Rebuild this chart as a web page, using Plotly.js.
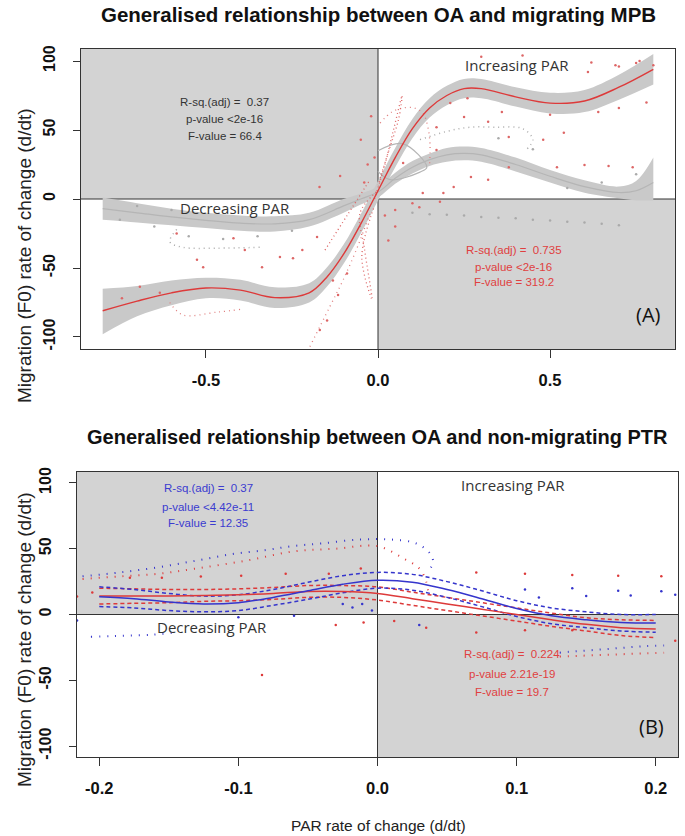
<!DOCTYPE html>
<html><head><meta charset="utf-8">
<script src="https://cdn.plot.ly/plotly-3.0.1.min.js"></script>
<style>body{margin:0;padding:0;background:#fff}#chart{width:685px;height:836px}</style>
</head><body><div id="chart"></div>
<script>
// ---------- Panel A data ----------
const aFitX   = [-0.8,-0.7,-0.6,-0.5,-0.4,-0.3,-0.2,-0.15,-0.1,-0.05,0,0.05,0.1,0.15,0.2,0.25,0.3,0.4,0.5,0.6,0.7,0.8];
const aRedFit = [-81,-74,-68,-64.5,-66,-71.5,-68,-57,-40,-18,6,30,51,66,75,80,80,74,69.5,71,81,94];
const aRedUp  = [-65,-63,-59,-57,-58.5,-64,-61,-50,-33,-11,13,37,58,73,82,87,87,81,77,79,90,105];
const aRedLo  = [-98,-85,-77,-72,-73.5,-79,-75,-64,-47,-25,-1,23,44,59,68,73,73,67,62,63,72,83];

const aGrayX   = [-0.8,-0.7,-0.6,-0.5,-0.4,-0.3,-0.2,-0.1,-0.05,0,0.05,0.1,0.15,0.2,0.25,0.3,0.4,0.5,0.6,0.7,0.75,0.8];
const aGrayFit = [-7,-10,-13,-15.5,-17.5,-18,-15,-5,0,5,15,23,28.5,32,33,32,25,16.5,9,4.7,6,12];
const aGrayUp  = [1,-3,-7,-10,-12,-12.5,-10,0,4,9,19,27.5,33,37,38,37,30,21,13.5,9,13,30];
const aGrayLo  = [-15,-17,-19,-21,-23,-23.5,-20,-10,-4,1,11,18.5,24,27,28,27,20,12,4.5,0.5,-1,-1];

const aRedPtsX = [0.3,0.42,0.62,0.7,0.76,0.8,0.61,0.69,0.75,0.21,0.26,0.36,0.5,0.64,0.70,0.78,0.17,0.25,0.32,0.38,0.48,0.54,0.073,0.17,0.27,0.32,0.38,0.52,0.6,0.67,0.74,0.22,0.13,0.19,
  -0.05,-0.03,-0.02,-0.04,-0.01,-0.17,-0.11,-0.585,-0.526,-0.508,-0.42,-0.387,-0.337,-0.285,-0.247,-0.22,-0.177,-0.692,-0.744,-0.634,-0.131,-0.148,-0.169,-0.09,-0.116,
  0.05,0.1,0.18,0.05,0.02,0.12,0.03];
const aRedPtsY = [103,104,99,96,100,97,92,97,98.5,69.5,73,63,61,63,66,70,52,59.5,56,45,43,48,26,35.5,16,14,23,23,24.6,24,23,8.7,4.3,4.3,
  43,25,60,12,30,8.7,16.7,-25,-44,-49.5,-28.5,-37,-49.5,-42,-43,-37,-27.5,-63.5,-72,-68,-59,-88,-95,-54,-69.5,
  -8,-3,-2,-20,-12,-6,-30];
const aGrayPtsX = [0.1,0.15,0.2,0.25,0.3,0.35,0.4,0.45,0.5,0.55,0.6,0.65,0.7,-0.75,-0.65,-0.55,-0.45,-0.35,-0.25,-0.7,-0.6,0.35,0.45,0.55,0.65,0.75];
const aGrayPtsY = [-10,-11,-11.5,-12,-13,-13.5,-14,-15,-15.5,-16.5,-17,-18,-19,-15,-20,-27,-29,-27,-23,-5,-8,44,36,8,12,18];

// dotted loops / spikes (panel A)
const aRedLoop1X = [0.006,0.04,0.073,0.105,0.131,0.145,0.151,0.15];
const aRedLoop1Y = [55,63,66,66,62,52,40,25];
const aRedSpikeX = [-0.01,0.02,0.045,0.07,0.06,0.03,0.0];
const aRedSpikeY = [0,25,50,75,58,34,10];
const aRedSpike2X = [-0.154,-0.09,-0.023];
const aRedSpike2Y = [-37,-12,14];
const aRedLoop2X = [-0.005,-0.052,-0.04,-0.017,-0.047,-0.01];
const aRedLoop2Y = [5,-10,-35,-73,-42,-5];
const aRedSpike3X = [-0.198,-0.14,-0.102,-0.06,-0.02];
const aRedSpike3Y = [-107,-78,-59,-35,-8];
const aRedLoop3X = [-0.605,-0.567,-0.468,-0.4];
const aRedLoop3Y = [-75,-84,-82,-80];
const aGrayLoop1X = [-0.585,-0.605,-0.567,-0.468,-0.34];
const aGrayLoop1Y = [-22,-31,-35,-35.6,-35];
const aGrayLoop2X = [0.122,0.2,0.267,0.34,0.42,0.45,0.43];
const aGrayLoop2Y = [43,49,52,52,51,43,35.5];
const aGrayRingX = [0,0.073,0.142,0.122,0.035,0];
const aGrayRingY = [35,40,23,19.5,14,20];

// ---------- Panel B data ----------
const bX       = [-0.2,-0.175,-0.15,-0.125,-0.1,-0.075,-0.05,-0.025,0,0.025,0.05,0.075,0.1,0.125,0.15,0.175,0.2];
const bRedFit  = [14,14,14,14.5,15,16,17.5,17.5,16,12,8,4,0,-4,-7.5,-10,-11];
const bRedUp   = [20,19.5,19,19,19.5,20.5,22,22,21,17,13,9,5,1,-2.5,-4,-4.5];
const bRedLo   = [8,8.5,9,10,10.5,11.5,13,13,11,7,3,-1,-5,-9,-12.5,-16,-17.5];
const bBlueFit = [13.5,12,9.5,8,9,13,18,23,26,24.5,19,12,4.5,-1,-4,-6,-6.5];
const bBlueUp  = [21,19,16,14,15,19,24.5,29.5,32,30.5,25,18,10.5,5,2,0,0];
const bBlueLo  = [6,5,3,2,3,7,11.5,16.5,20,18.5,13,6,-1.5,-7,-10,-12.5,-13.5];

const bBlueDotUpX = [-0.212,-0.185,-0.157,-0.13,-0.104,-0.08,-0.061,-0.04,-0.013,0.009,0.025,0.033,0.038,0.04,0.038,0.036];
const bBlueDotUpY = [29,32,36,41,46,49,52,54,57,57,55,51,46,40,35,32];
const bRedDotUpX  = [-0.212,-0.185,-0.157,-0.13,-0.094,-0.06,-0.03,0,0.018,0.03,0.035,0.037];
const bRedDotUpY  = [27,29,31,35,41,48,50,52,43,35,25,13];
const bBlueDotLoX = [-0.206,-0.191,-0.178,-0.163,-0.148];
const bBlueDotLoY = [-17,-16.5,-16,-15.5,-14];
const bBlueDotLo2X = [0.131,0.142,0.155,0.168,0.18,0.193,0.206];
const bBlueDotLo2Y = [-29,-28,-27,-26,-25,-24,-23.5];
const bRedDotLo2X  = [0.131,0.142,0.155,0.168,0.18,0.193,0.206];
const bRedDotLo2Y  = [-32,-31.5,-31,-30.5,-30,-29.5,-29];

const bRedPtsX = [0.071,0.106,0.14,0.173,0.204,0.071,0.106,-0.083,-0.216,-0.205,-0.178,-0.155,-0.127,-0.098,-0.066,-0.035,-0.012,0.035,0.14,-0.03,-0.01,0.012,0.214];
const bRedPtsY = [32,31,30,29.5,29,-13.6,-12,-46,13.6,16.7,28,28,28.8,29.5,31,31,35,-10,-12,-8,-6,-5,-20];
const bBluePtsX = [0.106,0.116,0.14,0.15,0.173,0.182,0.204,0.214,-0.025,-0.018,-0.011,-0.004,-0.216,-0.1,-0.06,0.03];
const bBluePtsY = [19,13,20,14,18,14.5,17.6,15,8,5.3,8,3,-4.5,-2,-1,-8];

const aTicksX = [-0.5,0,0.5], aTickTextX = ['-0.5','0.0','0.5'];
const bTicksX = [-0.2,-0.1,0,0.1,0.2], bTickTextX = ['-0.2','-0.1','0.0','0.1','0.2'];
const yTicks = [-100,-50,0,50,100], yTickText = ['-100','-50','0','50','100'];

// ---------- styles ----------
const RED='#dd3a3a', BLUE='#3535cc', GBAND='#c9c9c9', GLINE='#b5b5b5', SHADE='#d3d3d3';
const traces=[];
function band(x,lo,up,col,xa,ya){
  traces.push({x:x,y:lo,mode:'lines',line:{width:0,shape:'spline'},hoverinfo:'skip',xaxis:xa,yaxis:ya});
  traces.push({x:x,y:up,mode:'lines',line:{width:0,shape:'spline'},fill:'tonexty',fillcolor:col,hoverinfo:'skip',xaxis:xa,yaxis:ya});
}
function line(x,y,col,w,dash,xa,ya){
  traces.push({x:x,y:y,mode:'lines',line:{color:col,width:w,dash:dash||'solid',shape:'spline'},hoverinfo:'skip',xaxis:xa,yaxis:ya});
}
function pts(x,y,col,s,xa,ya){
  traces.push({x:x,y:y,mode:'markers',marker:{color:col,size:s},hoverinfo:'skip',xaxis:xa,yaxis:ya});
}
// Panel A
band(aGrayX,aGrayLo,aGrayUp,GBAND,'x','y');
band(aFitX,aRedLo,aRedUp,GBAND,'x','y');
line(aGrayX,aGrayFit,GLINE,1.2,'solid','x','y');
line(aGrayRingX,aGrayRingY,GLINE,1.2,'solid','x','y');
line(aGrayLoop1X,aGrayLoop1Y,'#aaaaaa',1.5,'1px,4px','x','y');
line(aGrayLoop2X,aGrayLoop2Y,'#aaaaaa',1.5,'1px,4px','x','y');
line(aRedLoop1X,aRedLoop1Y,'#e08080',1.3,'1px,4px','x','y');
line(aRedSpikeX,aRedSpikeY,'#dd6666',1.3,'1px,3px','x','y');
line(aRedSpike2X,aRedSpike2Y,'#dd6666',1.3,'1px,3px','x','y');
line(aRedLoop2X,aRedLoop2Y,'#dd6666',1.3,'1px,3px','x','y');
line(aRedSpike3X,aRedSpike3Y,'#e08080',1.3,'1px,4px','x','y');
line(aRedLoop3X,aRedLoop3Y,'#e08080',1.3,'1px,4px','x','y');
pts(aGrayPtsX,aGrayPtsY,'#aaaaaa',2.5,'x','y');
pts(aRedPtsX,aRedPtsY,'#dd6666',2.5,'x','y');
line(aFitX,aRedFit,RED,1.4,'solid','x','y');
// Panel B
line(bBlueDotUpX,bBlueDotUpY,BLUE,2,'1px,7px','x2','y2');
line(bRedDotUpX,bRedDotUpY,RED,2,'1px,7px','x2','y2');
line(bBlueDotLoX,bBlueDotLoY,BLUE,2,'1px,7px','x2','y2');
line(bBlueDotLo2X,bBlueDotLo2Y,BLUE,2,'1px,7px','x2','y2');
line(bRedDotLo2X,bRedDotLo2Y,RED,2,'1px,7px','x2','y2');
pts(bRedPtsX,bRedPtsY,RED,2.5,'x2','y2');
pts(bBluePtsX,bBluePtsY,BLUE,2.5,'x2','y2');
line(bX,bRedUp,RED,1.5,'4px,3px','x2','y2');
line(bX,bRedLo,RED,1.5,'4px,3px','x2','y2');
line(bX,bBlueUp,BLUE,1.5,'4px,3px','x2','y2');
line(bX,bBlueLo,BLUE,1.5,'4px,3px','x2','y2');
line(bX,bRedFit,RED,1.5,'solid','x2','y2');
line(bX,bBlueFit,BLUE,1.5,'solid','x2','y2');

const W=685,H=836;
function axX(dom,rng,tv,tt,anchor){return {domain:dom,range:rng,tickvals:tv,ticktext:tt,ticks:'outside',ticklen:8,tickcolor:'#333',
  showgrid:false,zeroline:false,showline:true,mirror:true,linecolor:'#333',linewidth:1,anchor:anchor,ticklabelstandoff:8,
  tickfont:{family:'Liberation Sans',size:16.5,color:'#111',weight:'bold'}};}
function axY(dom,rng,anchor){return {domain:dom,range:rng,tickvals:yTicks,ticktext:yTickText,ticks:'outside',ticklen:7,tickcolor:'#333',tickangle:-90,
  showgrid:false,zeroline:false,showline:true,mirror:true,linecolor:'#333',linewidth:1,anchor:anchor,ticklabelstandoff:12,
  tickfont:{family:'Liberation Sans',size:16,color:'#111',weight:'bold'}};}

const aXR=[-0.863,0.863], aYR=[-108.7,108.7], bXR=[-0.216,0.216], bYR=[-108.3,108.3];
const shapes=[
 {type:'rect',xref:'x',yref:'y',x0:aXR[0],x1:0,y0:0,y1:aYR[1],fillcolor:SHADE,line:{width:0},layer:'below'},
 {type:'rect',xref:'x',yref:'y',x0:0,x1:aXR[1],y0:aYR[0],y1:0,fillcolor:SHADE,line:{width:0},layer:'below'},
 {type:'line',xref:'x',yref:'y',x0:0,x1:0,y0:aYR[0],y1:aYR[1],line:{color:'#333',width:1},layer:'below'},
 {type:'line',xref:'x',yref:'y',x0:aXR[0],x1:aXR[1],y0:0,y1:0,line:{color:'#333',width:1},layer:'below'},
 {type:'rect',xref:'x2',yref:'y2',x0:bXR[0],x1:0,y0:0,y1:bYR[1],fillcolor:SHADE,line:{width:0},layer:'below'},
 {type:'rect',xref:'x2',yref:'y2',x0:0,x1:bXR[1],y0:bYR[0],y1:0,fillcolor:SHADE,line:{width:0},layer:'below'},
 {type:'line',xref:'x2',yref:'y2',x0:0,x1:0,y0:bYR[0],y1:bYR[1],line:{color:'#333',width:1},layer:'below'},
 {type:'line',xref:'x2',yref:'y2',x0:bXR[0],x1:bXR[1],y0:0,y1:0,line:{color:'#333',width:1},layer:'below'}
];
const F_STAT={family:'Liberation Sans',size:11.5};
function ann(text,x,y,xr,yr,font,extra){return Object.assign({text:text,x:x,y:y,xref:xr,yref:yr,showarrow:false,xanchor:'center',yanchor:'middle',font:font},extra||{});}
const PANEL={family:'Open Sans',size:15,color:'#333'};
const TITLEF={family:'Liberation Sans',size:20.5,color:'#111',weight:'bold'};
const TITLEF2={family:'Liberation Sans',size:20,color:'#111',weight:'bold'};
const annotations=[
 ann('Generalised relationship between OA and migrating MPB',378/W,1-14/H,'paper','paper',TITLEF),
 ann('Generalised relationship between OA and non-migrating PTR',377/W,1-437/H,'paper','paper',TITLEF2),
 ann('Migration (F0) rate of change (d/dt)',24/W,1-256/H,'paper','paper',{family:'Liberation Sans',size:19,color:'#222'},{textangle:-90}),
 ann('Migration (F0) rate of change (d/dt)',24/W,1-640/H,'paper','paper',{family:'Liberation Sans',size:19,color:'#222'},{textangle:-90}),
 ann('PAR rate of change (d/dt)',379/W,1-825/H,'paper','paper',{family:'Liberation Sans',size:15.5,color:'#222'}),
 ann('Increasing PAR',0.404,97.1,'x','y',PANEL),
 ann('Decreasing PAR',-0.416,-6.5,'x','y',PANEL),
 ann('R-sq.(adj) =  0.37',-0.445,70.3,'x','y',Object.assign({color:'#333'},F_STAT)),
 ann('p-value &lt;2e-16',-0.445,58,'x','y',Object.assign({color:'#333'},F_STAT)),
 ann('F-value = 66.4',-0.445,45.7,'x','y',Object.assign({color:'#333'},F_STAT)),
 ann('R-sq.(adj) =  0.735',0.395,-37,'x','y',Object.assign({color:'#e04040'},F_STAT)),
 ann('p-value &lt;2e-16',0.395,-49.3,'x','y',Object.assign({color:'#e04040'},F_STAT)),
 ann('F-value = 319.2',0.395,-60.1,'x','y',Object.assign({color:'#e04040'},F_STAT)),
 ann('(A)',0.785,-84,'x','y',{family:'Open Sans',size:20,color:'#111'}),
 ann('Increasing PAR',0.0971,98.5,'x2','y2',PANEL),
 ann('Decreasing PAR',-0.1187,-9.8,'x2','y2',PANEL),
 ann('R-sq.(adj) =  0.37',-0.1216,96.2,'x2','y2',Object.assign({color:'#3b3bd0'},F_STAT)),
 ann('p-value &lt;4.42e-11',-0.1216,81.8,'x2','y2',Object.assign({color:'#3b3bd0'},F_STAT)),
 ann('F-value = 12.35',-0.1216,69.7,'x2','y2',Object.assign({color:'#3b3bd0'},F_STAT)),
 ann('R-sq.(adj) =  0.224',0.0964,-30.3,'x2','y2',Object.assign({color:'#e04040'},F_STAT)),
 ann('p-value 2.21e-19',0.0964,-45.5,'x2','y2',Object.assign({color:'#e04040'},F_STAT)),
 ann('F-value = 19.7',0.0964,-59,'x2','y2',Object.assign({color:'#e04040'},F_STAT)),
 ann('(B)',0.197,-84.8,'x2','y2',{family:'Open Sans',size:20,color:'#111'})
];
const layout={width:W,height:H,margin:{l:0,r:0,t:0,b:0},showlegend:false,paper_bgcolor:'#fff',plot_bgcolor:'#fff',
 xaxis:axX([81/W,675/W],aXR,aTicksX,aTickTextX,'y'),
 yaxis:axY([(H-349)/H,(H-49)/H],aYR,'x'),
 xaxis2:axX([77/W,678/W],bXR,bTicksX,bTickTextX,'y2'),
 yaxis2:axY([(H-757)/H,(H-472)/H],bYR,'x2'),
 shapes:shapes,annotations:annotations};
Plotly.newPlot('chart',traces,layout,{staticPlot:true,displayModeBar:false});
</script></body></html>
